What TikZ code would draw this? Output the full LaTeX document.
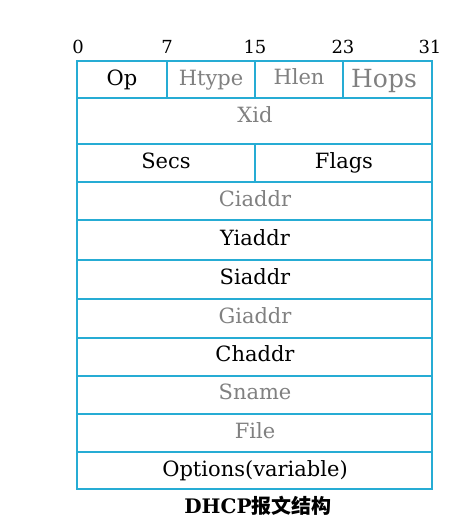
\documentclass[tikz,border=0pt]{standalone}
\usepackage{fontspec}
\setmainfont{DejaVu Serif}
\newfontfamily\cjk{Noto Sans CJK SC}
\usepackage{tikz}
\usetikzlibrary{positioning}

\definecolor{gridcyan}{RGB}{38,172,212}
\definecolor{fieldgray}{RGB}{128,128,128}

\tikzset{
	cell/.style={draw=gridcyan, line width=1.3pt},
	black field/.style={font=\fontsize{21}{24}\selectfont, text=black, anchor=base},
	gray field/.style={font=\fontsize{21}{24}\selectfont, text=fieldgray, anchor=base},
	bitno/.style={font=\fontsize{18}{20}\selectfont, anchor=base}
}

\begin{document}
\begin{tikzpicture}[x=1pt,y=-1pt]
	\useasboundingbox (0,0) rectangle (472,531);
	% outer frame and rows
	\draw[cell] (77,61) rectangle (432,489);
	\foreach \y in {98,144,182,220,260,299,338,376,414,452}
		\draw[cell] (77,\y) -- (432,\y);
	\draw[cell] (167,61) -- (167,98);
	\draw[cell] (255,61) -- (255,98);
	\draw[cell] (343,61) -- (343,98);
	\draw[cell] (255,144) -- (255,182);
	% bit numbers
	\node[bitno] (b0) at (78,53){0};
	\node[bitno] (b7) at (167,53){7};
	\node[bitno] (b15) at (255,53){15};
	\node[bitno] (b23) at (343,53){23};
	\node[bitno] (b31) at (430,53){31};
	% fields
	\node[black field] (op) at (122,85){Op};
	\node[gray field] (htype) at (211,85){Htype};
	\node[gray field] (hlen) at (299,84){Hlen};
	\node[gray field, font=\fontsize{25}{28}\selectfont] (hops) at (384,87){Hops};
	\node[gray field] (xid) at (255,122){Xid};
	\node[black field] (secs) at (166,168){Secs};
	\node[black field] (flags) at (344,168){Flags};
	\node[gray field] (ciaddr) at (255,206){Ciaddr};
	\node[black field] (yiaddr) at (255,245){Yiaddr};
	\node[black field] (siaddr) at (255,284){Siaddr};
	\node[gray field] (giaddr) at (255,323){Giaddr};
	\node[black field] (chaddr) at (255,361){Chaddr};
	\node[gray field] (sname) at (255,399){Sname};
	\node[gray field] (file) at (255,438){File};
	\node[black field] (options) at (255,476){Options(variable)};
	% caption
	\node[font=\fontsize{20}{22}\selectfont\bfseries, anchor=base] (caption) at (258,513){DHCP{\cjk\bfseries 报文结构}};
\end{tikzpicture}
\end{document}
